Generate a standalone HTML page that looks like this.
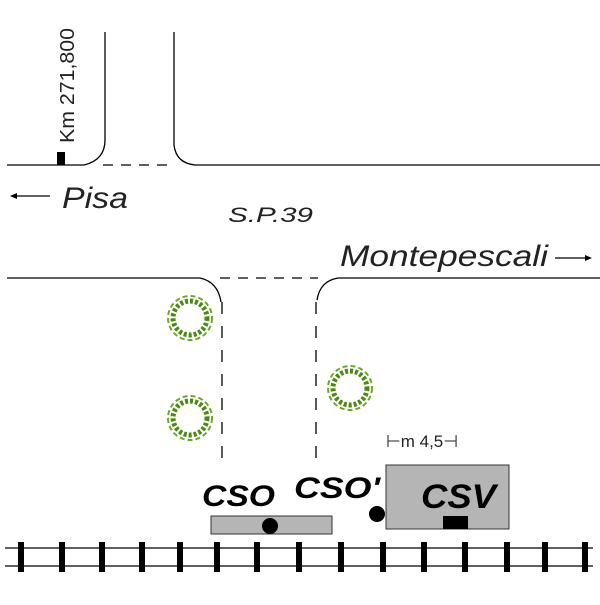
<!DOCTYPE html>
<html><head><style>body{margin:0;background:#fff}</style></head><body>
<svg width="600" height="600" viewBox="0 0 600 600" xmlns="http://www.w3.org/2000/svg" font-family="Liberation Sans, sans-serif">
<g fill="none" stroke="#000" stroke-width="1.3">
<path d="M7 165 H84 Q105 160 105 140 V32"/>
<path d="M174 32 V145 Q176 163 195 165 H600"/>
<path d="M103 165 H172" stroke-dasharray="10,8"/>
<path d="M7 278 H200 Q218 282 221 302"/>
<path d="M338 278 H600"/>
<path d="M317 300 Q320 281 338 278"/>
<path d="M220 278 H318" stroke-dasharray="10,8"/>
<path d="M222 302 V460" stroke-dasharray="12,12"/>
<path d="M316 302 V460" stroke-dasharray="12,12"/>
<path d="M14 196 H50 M555 258 H588"/>
<path d="M5 548 H593 M5 566 H593"/>
</g>
<path d="M10 196 l7 -3 v6z M592 258 l-7 -3 v6z"/>
<rect x="57" y="152" width="8" height="13"/>
<text transform="translate(74,143) rotate(-90)" font-size="20" fill="#222" textLength="115" lengthAdjust="spacingAndGlyphs">Km 271,800</text>
<text x="62" y="208" font-size="30" font-style="italic" fill="#222" textLength="66" lengthAdjust="spacingAndGlyphs">Pisa</text>
<text x="228" y="222" font-size="21" font-style="italic" fill="#222" textLength="85" lengthAdjust="spacingAndGlyphs">S.P.39</text>
<text x="340" y="266" font-size="30" font-style="italic" fill="#222" textLength="208" lengthAdjust="spacingAndGlyphs">Montepescali</text>
<g fill="none" stroke="#4a8a10" stroke-width="5" stroke-dasharray="3,2">
<circle cx="190" cy="318" r="17"/><circle cx="190" cy="418" r="17"/><circle cx="350" cy="388" r="17"/>
</g>
<g fill="none" stroke="#6aa82a" stroke-width="2" stroke-dasharray="5,3">
<circle cx="190" cy="318" r="22"/><circle cx="190" cy="418" r="22"/><circle cx="350" cy="388" r="22"/>
</g>
<g fill="#000">
<rect x="18" y="542" width="6" height="30"/><rect x="59" y="542" width="6" height="30"/><rect x="99" y="542" width="6" height="30"/><rect x="139" y="542" width="6" height="30"/><rect x="177" y="542" width="6" height="30"/><rect x="214" y="542" width="6" height="30"/><rect x="254" y="542" width="6" height="30"/><rect x="296" y="542" width="6" height="30"/><rect x="338" y="542" width="6" height="30"/><rect x="380" y="542" width="6" height="30"/><rect x="421" y="542" width="6" height="30"/><rect x="462" y="542" width="6" height="30"/><rect x="504" y="542" width="6" height="30"/><rect x="542" y="542" width="6" height="30"/><rect x="582" y="542" width="6" height="30"/>
</g>
<rect x="211" y="516" width="121" height="18" fill="#b5b5b5" stroke="#333"/>
<circle cx="270" cy="526" r="8"/>
<rect x="386" y="465" width="123" height="64" fill="#b5b5b5" stroke="#333"/>
<rect x="443" y="516" width="25" height="13"/>
<circle cx="377" cy="514" r="8"/>
<text x="386" y="447" font-size="17" fill="#222" textLength="72" lengthAdjust="spacingAndGlyphs">⊢m 4,5⊣</text>
<g font-weight="bold" font-style="italic" fill="#000">
<text x="202" y="506" font-size="30" textLength="73" lengthAdjust="spacingAndGlyphs">CSO</text>
<text x="294" y="498" font-size="30" textLength="86" lengthAdjust="spacingAndGlyphs">CSO'</text>
<text x="421" y="508" font-size="34" textLength="75" lengthAdjust="spacingAndGlyphs">CSV</text>
</g>
</svg>
</body></html>
